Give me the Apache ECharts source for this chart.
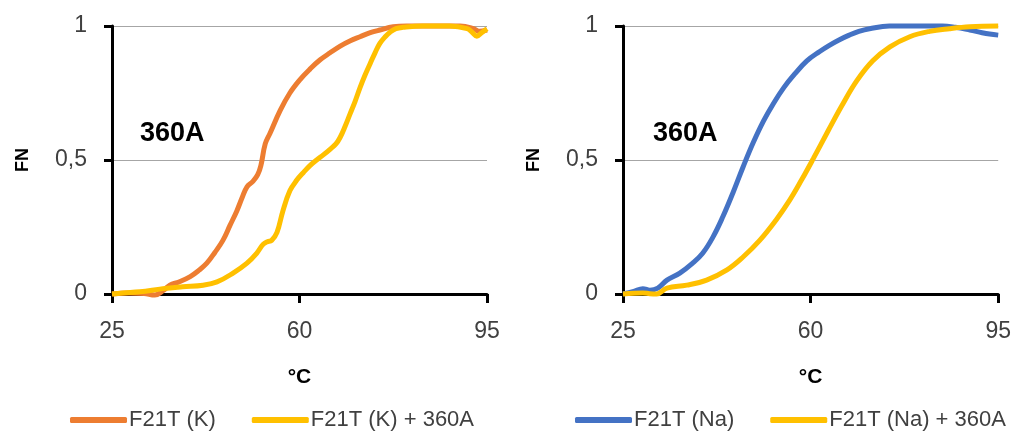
<!DOCTYPE html>
<html>
<head>
<meta charset="utf-8">
<script src="https://cdn.jsdelivr.net/npm/echarts@6/dist/echarts.min.js"></script>
<style>
  html, body { margin: 0; padding: 0; background: #fff; }
  #chart { width: 1014px; height: 436px; }
</style>
</head>
<body>
<div id="chart"></div>
<script>
// Melting curves: fraction folded (FN) against temperature (°C)

// Left panel: K+ buffer
const tempK = [25, 28, 31, 33, 34.5, 35.8, 37.5, 39.6, 41.2, 42.7, 44.2, 45.7, 47, 48.3, 49.3, 50.2, 51.3, 52.2, 52.8, 53.6, 54.5, 56.4, 58.2, 60.1, 62, 63.8, 65.7, 67.6, 69.5, 71.3, 73.2, 75, 77.5, 80, 85, 90, 92.5, 93.5, 95];
const fnK   = [0, 0.004, 0.002, -0.004, 0.012, 0.033, 0.045, 0.065, 0.088, 0.115, 0.155, 0.2, 0.255, 0.31, 0.36, 0.4, 0.42, 0.445, 0.48, 0.56, 0.6, 0.685, 0.75, 0.8, 0.84, 0.873, 0.9, 0.925, 0.945, 0.96, 0.975, 0.985, 0.997, 1, 1, 1, 0.99, 0.98, 0.985];

const tempK360 = [25, 27, 30.2, 34.5, 38.2, 42, 44.6, 47.6, 50.2, 52, 53.2, 54, 54.8, 55.8, 56.9, 58.2, 59.5, 60.8, 62, 63.2, 64.5, 65.7, 66.8, 67.6, 68.5, 69.4, 70.4, 71.3, 72.2, 73.2, 74.1, 75, 76, 76.9, 78, 79.3, 83, 88, 91.3, 92.3, 93.1, 94, 95];
const fnK360   = [0, 0.004, 0.008, 0.02, 0.027, 0.033, 0.045, 0.078, 0.115, 0.152, 0.185, 0.195, 0.2, 0.23, 0.31, 0.385, 0.425, 0.455, 0.48, 0.5, 0.52, 0.54, 0.56, 0.585, 0.625, 0.67, 0.72, 0.77, 0.815, 0.86, 0.9, 0.935, 0.96, 0.977, 0.99, 0.995, 1, 1, 0.99, 0.975, 0.962, 0.975, 0.99];

// Right panel: Na+ buffer
const tempNa = [25, 27, 28.7, 30, 31.5, 33.2, 35.6, 38, 39.9, 41.8, 43.6, 45.5, 47.4, 49.3, 51.2, 53.1, 55, 57, 59.3, 61.7, 63.5, 65.3, 67.2, 69, 71, 74.7, 80, 84.6, 87, 89.7, 92, 93.4, 95];
const fnNa   = [0, 0.01, 0.02, 0.014, 0.022, 0.052, 0.078, 0.115, 0.153, 0.213, 0.287, 0.377, 0.474, 0.565, 0.645, 0.712, 0.77, 0.82, 0.87, 0.905, 0.928, 0.948, 0.966, 0.98, 0.99, 1, 1, 1, 0.995, 0.985, 0.975, 0.97, 0.966];

const tempNa360 = [25, 28.7, 30, 31.3, 33.2, 36.9, 40.6, 44.4, 47.4, 50.5, 53.7, 56.1, 58.3, 60.5, 63.3, 65.9, 68.6, 71.6, 74.8, 78.5, 82.2, 85.9, 89.7, 95];
const fnNa360   = [0, 0.004, 0.001, 0, 0.022, 0.033, 0.052, 0.09, 0.138, 0.2, 0.28, 0.35, 0.425, 0.505, 0.61, 0.705, 0.795, 0.87, 0.922, 0.96, 0.98, 0.99, 0.997, 1];

const seriesNames = ['F21T (K)', 'F21T (K) + 360A', 'F21T (Na)', 'F21T (Na) + 360A'];
const xTicks = { min: 25, max: 95, step: 35 };
const yTicks = { min: 0, max: 1, step: 0.5 };
const panelLabel = '360A';

const ORANGE = '#ED7D31', YELLOW = '#FFC000', BLUE = '#4472C4';
const FONT = "'Liberation Sans', Arial, sans-serif";

const zip = (xs, ys) => xs.map((x, i) => [x, ys[i]]);

function xAxisFor(gridIndex) {
  return {
    gridIndex, type: 'value',
    min: xTicks.min, max: xTicks.max, interval: xTicks.step,
    name: '°C', nameLocation: 'middle', nameGap: 73,
    nameTextStyle: { fontFamily: FONT, fontWeight: 'bold', fontSize: 21, color: '#000' },
    axisLine: { show: true, onZero: false, lineStyle: { color: '#000', width: 3 } },
    axisTick: { show: true, length: 9, lineStyle: { color: '#000', width: 3 } },
    axisLabel: { margin: 26, fontFamily: FONT, fontSize: 23, color: '#404040' },
    splitLine: { show: false }
  };
}
function yAxisFor(gridIndex) {
  return {
    gridIndex, type: 'value',
    min: yTicks.min, max: yTicks.max, interval: yTicks.step,
    name: 'FN', nameLocation: 'middle', nameGap: 80, nameRotate: 90,
    nameTextStyle: { fontFamily: FONT, fontWeight: 'bold', fontSize: 18, color: '#000' },
    axisLine: { show: true, lineStyle: { color: '#000', width: 3 } },
    axisTick: { show: true, length: 8, lineStyle: { color: '#000', width: 3 } },
    axisLabel: {
      margin: 25, fontFamily: FONT, fontSize: 23, color: '#404040',
      formatter: v => String(v).replace('.', ',')
    },
    splitLine: { show: true, lineStyle: { color: '#a6a6a6', width: 1 } }
  };
}
function lineSeries(name, data, color, idx) {
  return {
    name, type: 'line', data, xAxisIndex: idx, yAxisIndex: idx,
    smooth: 0.4, showSymbol: false, symbol: 'none', clip: false,
    lineStyle: { color, width: 5 }, itemStyle: { color }
  };
}
function legendFor(names, left) {
  return {
    data: names, left, top: 409, orient: 'horizontal', padding: 0,
    icon: 'roundRect', itemWidth: 57, itemHeight: 6, itemGap: 36,
    textStyle: { fontFamily: FONT, fontSize: 22, color: '#404040', padding: [0, 0, 0, -3] }
  };
}

const chart = echarts.init(document.getElementById('chart'), null, { renderer: 'canvas' });
chart.setOption({
  animation: false,
  backgroundColor: '#fff',
  grid: [
    { left: 112, right: 527, top: 26, bottom: 142 },
    { left: 623, right: 15, top: 26, bottom: 142 }
  ],
  xAxis: [xAxisFor(0), xAxisFor(1)],
  yAxis: [yAxisFor(0), yAxisFor(1)],
  legend: [
    legendFor([seriesNames[0], seriesNames[1]], 70),
    legendFor([seriesNames[2], seriesNames[3]], 575)
  ],
  graphic: [
    { type: 'text', left: 140, top: 120, style: { text: panelLabel, font: "bold 27px 'Liberation Sans', Arial, sans-serif", fill: '#000' } },
    { type: 'text', left: 653, top: 120, style: { text: panelLabel, font: "bold 27px 'Liberation Sans', Arial, sans-serif", fill: '#000' } }
  ],
  series: [
    lineSeries(seriesNames[0], zip(tempK, fnK), ORANGE, 0),
    lineSeries(seriesNames[1], zip(tempK360, fnK360), YELLOW, 0),
    lineSeries(seriesNames[2], zip(tempNa, fnNa), BLUE, 1),
    lineSeries(seriesNames[3], zip(tempNa360, fnNa360), YELLOW, 1)
  ]
});
</script>
</body>
</html>
